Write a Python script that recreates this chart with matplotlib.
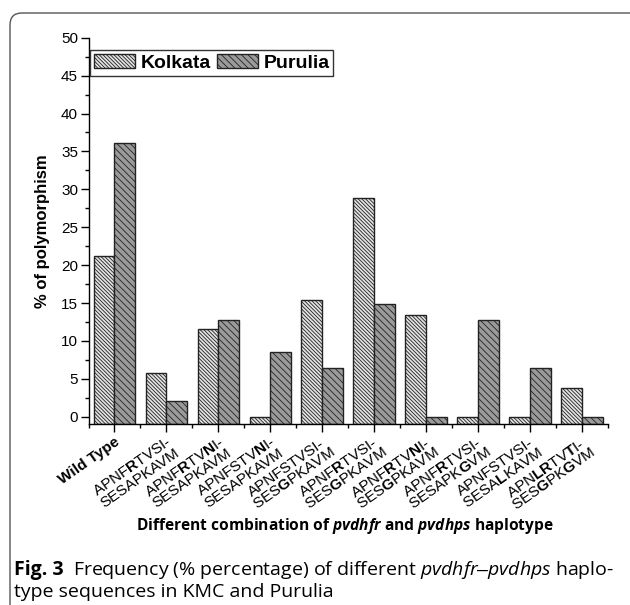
import matplotlib
matplotlib.use("Agg")
import matplotlib.pyplot as plt
import numpy as np
from matplotlib.patches import FancyBboxPatch
from matplotlib.transforms import ScaledTranslation

plt.rcParams['font.family'] = ['Liberation Sans', 'DejaVu Sans']
plt.rcParams['mathtext.fontset'] = 'custom'
plt.rcParams['mathtext.rm'] = 'Liberation Sans'
plt.rcParams['mathtext.bf'] = 'Liberation Sans:bold'
plt.rcParams['mathtext.it'] = 'Open Sans:italic'
plt.rcParams['mathtext.bfit'] = 'Open Sans:bold:italic'
plt.rcParams['hatch.linewidth'] = 0.6

# haplotype labels (bold letters = mutated residues)
haplotypes = [
    "Wild Type",
    "APNF$\\mathbf{R}$TVSI-\nSESAPKAVM",
    "APNF$\\mathbf{R}$TV$\\mathbf{N}$I-\nSESAPKAVM",
    "APNFSTV$\\mathbf{N}$I-\nSESAPKAVM",
    "APNFSTVSI-\nSES$\\mathbf{G}$PKAVM",
    "APNF$\\mathbf{R}$TVSI-\nSES$\\mathbf{G}$PKAVM",
    "APNF$\\mathbf{R}$TV$\\mathbf{N}$I-\nSES$\\mathbf{G}$PKAVM",
    "APNF$\\mathbf{R}$TVSI-\nSESAPK$\\mathbf{G}$VM",
    "APNFSTVSI-\nSESA$\\mathbf{L}$KAVM",
    "APN$\\mathbf{LR}$TV$\\mathbf{T}$I-\nSES$\\mathbf{G}$PK$\\mathbf{G}$VM",
]
kolkata = [21.15, 5.77, 11.54, 0, 15.38, 28.85, 13.46, 0, 0, 3.85]
purulia = [36.17, 2.13, 12.77, 8.51, 6.38, 14.89, 0, 12.77, 6.38, 0]

fig = plt.figure(figsize=(6.3, 6.05), dpi=100)

# rounded panel border (cropped at right/bottom)
border = FancyBboxPatch((0.10, -1.0), 7.5, 6.92, boxstyle="round,pad=0,rounding_size=0.12",
                        transform=fig.dpi_scale_trans, facecolor='none',
                        edgecolor='#555555', linewidth=1.0)
fig.patches.append(border)

ax = fig.add_axes([88.5 / 630, 1 - 424.3 / 605, 519.5 / 630, (424.3 - 37.7) / 605])

base = -1.0
x = np.arange(len(haplotypes))
w = 0.4
kol = np.array(kolkata)
pur = np.array(purulia)
ax.bar(x - w / 2, kol - base, w, bottom=base, color='#e2e2e2', edgecolor='#222222',
       linewidth=1.0, hatch='\\' * 9, label='Kolkata')
ax.bar(x + w / 2, pur - base, w, bottom=base, color='#9a9a9a', edgecolor='#222222',
       linewidth=1.0, hatch='\\' * 5, label='Purulia')

ax.set_xlim(-0.5, 9.5)
ax.set_ylim(base, 50)
ax.set_yticks(np.arange(0, 51, 5))
ax.set_yticks(np.arange(2.5, 50, 5), minor=True)
ax.set_xticks(x)
ax.set_xticks(np.arange(-0.5, 10, 1), minor=True)
ax.set_xticklabels(haplotypes, rotation=35, ha='right', va='top', rotation_mode='anchor',
                   multialignment='center', fontsize=11, linespacing=0.92)
ax.get_xticklabels()[0].set_fontweight('bold')
off = ScaledTranslation(4 / 100, 0, fig.dpi_scale_trans)
for lab in ax.get_xticklabels():
    lab.set_transform(lab.get_transform() + off)

ax.spines['top'].set_visible(False)
ax.spines['right'].set_visible(False)
for s in ('left', 'bottom'):
    ax.spines[s].set_linewidth(1.0)
ax.tick_params(which='major', direction='out', length=5.5, width=1.0, pad=2)
ax.tick_params(axis='y', labelsize=11)
ax.tick_params(which='minor', direction='out', length=3, width=1.0)

leg = ax.legend(loc='upper left', bbox_to_anchor=(0.003, 0.968), ncol=2, borderaxespad=0,
                prop={'weight': 'bold', 'size': 14}, handlelength=2.1, handleheight=0.75,
                handletextpad=0.3, columnspacing=0.3, borderpad=0.2, fancybox=False,
                framealpha=1, edgecolor='#333333')
leg.get_frame().set_linewidth(1.0)

fig.text(43 / 630, 1 - 231 / 605, '% of polymorphism', rotation=90, ha='center', va='center',
         fontsize=12, fontweight='bold')

fig.text(345 / 630, 1 - 526 / 605,
         'Different combination of $\\mathbfit{pvdhfr}$ and $\\mathbfit{pvdhps}$ haplotype',
         ha='center', va='center', fontsize=11.2, fontweight='bold', family='Open Sans')

# caption
r = fig.canvas.get_renderer()
cap_size = 14
y1 = 1 - 575 / 605
t0 = fig.text(14 / 630, y1, 'Fig. 3', fontsize=cap_size, fontweight='bold',
              family='Open Sans', va='baseline')
bb = t0.get_window_extent(r)
fig.text((bb.x1 + 9) / 630, y1,
         'Frequency (% percentage) of different $\\mathit{pvdhfr–pvdhps}$ haplo-',
         fontsize=cap_size, family='Open Sans', va='baseline')
fig.text(14 / 630, 1 - 597 / 605, 'type sequences in KMC and Purulia',
         fontsize=cap_size, family='Open Sans', va='baseline')

fig.savefig('out.png', dpi=100)
